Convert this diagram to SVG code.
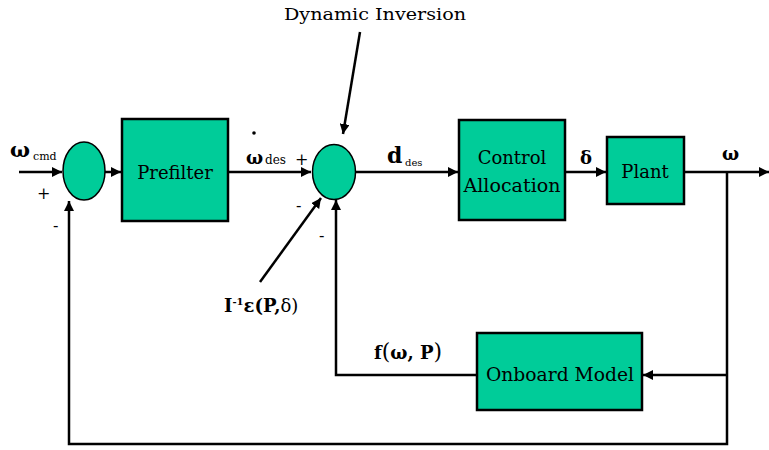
<svg xmlns="http://www.w3.org/2000/svg" width="769" height="450" viewBox="0 0 769 450">
<style>
.blk{fill:#00CC99;stroke:#000;stroke-width:2.5}
.ln{fill:none;stroke:#000;stroke-width:2.5}
</style>
<defs>
<marker id="ah" viewBox="0 0 10 10" refX="10" refY="5" markerWidth="4" markerHeight="4" orient="auto" markerUnits="strokeWidth">
<path d="M0,0 L10,5 L0,10 z" fill="#000"/>
</marker>
</defs>
<g id="connectors">
<line class="ln" x1="19" y1="172" x2="62" y2="172" marker-end="url(#ah)"/>
<line class="ln" x1="105" y1="172" x2="121" y2="172" marker-end="url(#ah)"/>
<line class="ln" x1="228" y1="172" x2="311" y2="172" marker-end="url(#ah)"/>
<line class="ln" x1="356" y1="172" x2="458" y2="172" marker-end="url(#ah)"/>
<line class="ln" x1="565" y1="172" x2="606" y2="172" marker-end="url(#ah)"/>
<line class="ln" x1="684" y1="172" x2="769" y2="172" marker-end="url(#ah)"/>
<line class="ln" x1="360" y1="32" x2="343" y2="134" marker-end="url(#ah)"/>
<line class="ln" x1="260" y1="282" x2="321" y2="198" marker-end="url(#ah)"/>
<polyline class="ln" points="727,172 727,444 69,444 69,201" marker-end="url(#ah)"/>
<line class="ln" x1="727" y1="375" x2="643" y2="375" marker-end="url(#ah)"/>
<polyline class="ln" points="477,375 336,375 336,200" marker-end="url(#ah)"/>
</g>
<g id="sum1"><ellipse class="blk" cx="84" cy="171" rx="21" ry="29" style="stroke-width:1.5"/></g>
<g font-family="DejaVu Serif, Liberation Serif, serif" fill="#000">
<g id="prefilter">
<rect class="blk" x="122" y="119" width="106" height="102"/>
<text x="175" y="179" font-size="18" text-anchor="middle">Prefilter</text>
</g>
<g id="sum2"><ellipse class="blk" cx="334" cy="172" rx="21.5" ry="27.5" style="stroke-width:1.5"/></g>
<g id="control-allocation">
<rect class="blk" x="459" y="120" width="106" height="100"/>
<text x="512" y="164" font-size="18" text-anchor="middle">Control</text>
<text x="512" y="192" font-size="18" text-anchor="middle" textLength="97" lengthAdjust="spacingAndGlyphs">Allocation</text>
</g>
<g id="plant">
<rect class="blk" x="607" y="137" width="77" height="67"/>
<text x="645" y="178" font-size="18" text-anchor="middle">Plant</text>
</g>
<g id="onboard-model">
<rect class="blk" x="477" y="333" width="165" height="77"/>
<text x="560" y="381" font-size="18" text-anchor="middle" textLength="148" lengthAdjust="spacingAndGlyphs">Onboard Model</text>
</g>
<g id="labels">
<text x="375" y="20" font-size="17" text-anchor="middle" textLength="182" lengthAdjust="spacingAndGlyphs">Dynamic Inversion</text>
<text x="10" y="157" font-size="21" font-weight="bold">ω</text>
<text x="33" y="160" font-size="11">cmd</text>
<text x="37" y="199" font-size="16">+</text>
<text x="53" y="231" font-size="16">-</text>
<circle cx="254" cy="133" r="1.8" fill="#000"/>
<text x="246" y="164" font-size="18" font-weight="bold">ω</text>
<text x="265" y="164" font-size="12">des</text>
<text x="295" y="165" font-size="16">+</text>
<text x="296" y="211" font-size="16">-</text>
<text x="319" y="241" font-size="16">-</text>
<text x="387" y="163" font-size="22" font-weight="bold">d</text>
<text x="405" y="166" font-size="10">des</text>
<text x="580" y="164" font-size="18" font-weight="bold">δ</text>
<text x="722" y="160" font-size="18" font-weight="bold">ω</text>
<text x="224" y="312" font-size="18" font-weight="bold">I<tspan font-size="10" dy="-7">-1</tspan><tspan dy="7">ε(P,</tspan><tspan font-weight="normal">δ)</tspan></text>
<text x="374" y="359" font-size="18" font-weight="bold">f<tspan font-weight="normal" font-size="22">(</tspan>ω, P<tspan font-weight="normal" font-size="22">)</tspan></text>
</g>
</g>
</svg>
